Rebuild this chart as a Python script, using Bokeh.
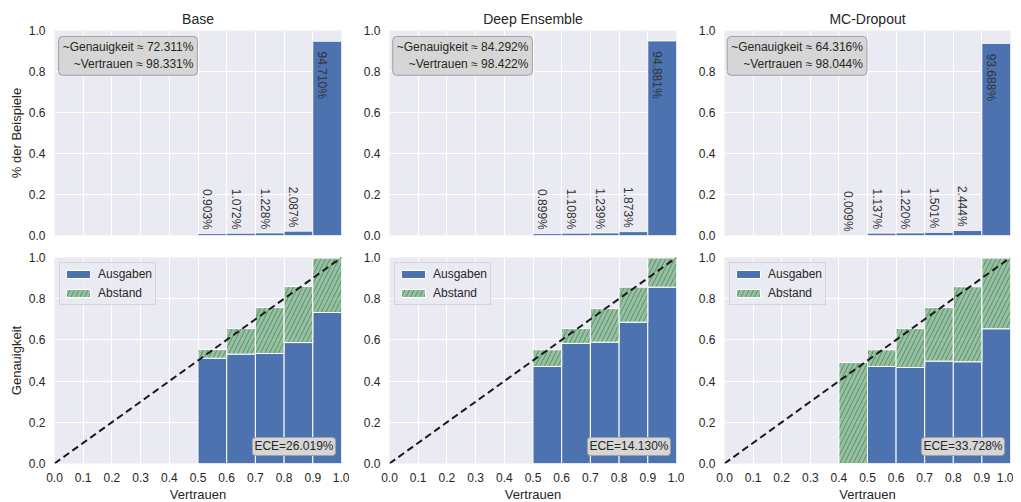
import math
from bokeh.plotting import figure
from bokeh.models import ColumnDataSource, FixedTicker, PrintfTickFormatter, Label, Range1d
from bokeh.layouts import column, row
from bokeh.embed import file_html
from bokeh.resources import INLINE
from bokeh.core.properties import value

# ---------------- data ----------------
models = ["Base", "Deep Ensemble", "MC-Dropout"]
bin_centers = [0.05, 0.15, 0.25, 0.35, 0.45, 0.55, 0.65, 0.75, 0.85, 0.95]

# share of samples per confidence bin (%)
share_base = [0, 0, 0, 0, 0, 0.903, 1.072, 1.228, 2.087, 94.710]
share_de = [0, 0, 0, 0, 0, 0.899, 1.108, 1.239, 1.873, 94.881]
share_mc = [0, 0, 0, 0, 0.009, 1.137, 1.220, 1.501, 2.444, 93.688]

# accuracy per bin ("Ausgaben")
acc_base = [0, 0, 0, 0, 0, 0.511, 0.531, 0.534, 0.587, 0.733]
acc_de = [0, 0, 0, 0, 0, 0.471, 0.583, 0.589, 0.686, 0.856]
acc_mc = [0, 0, 0, 0, 0.0, 0.471, 0.466, 0.497, 0.494, 0.654]

# mean confidence per bin (top of "Abstand")
conf_base = [0, 0, 0, 0, 0, 0.553, 0.655, 0.757, 0.859, 0.997]
conf_de = [0, 0, 0, 0, 0, 0.552, 0.655, 0.752, 0.856, 0.998]
conf_mc = [0, 0, 0, 0, 0.490, 0.552, 0.655, 0.757, 0.858, 0.997]

acc_overall = [72.311, 84.292, 64.316]
conf_overall = [98.331, 98.422, 98.044]
ece_values = [26.019, 14.130, 33.728]

x_ticks = [0.0, 0.1, 0.2, 0.3, 0.4, 0.5, 0.6, 0.7, 0.8, 0.9, 1.0]
y_ticks = [0.0, 0.2, 0.4, 0.6, 0.8, 1.0]
diag = [0.0, 1.0]

shares = [share_base, share_de, share_mc]
accs = [acc_base, acc_de, acc_mc]
confs = [conf_base, conf_de, conf_mc]

# ---------------- style ----------------
FONT = "Liberation Sans"
TXT = "#262626"
BG = "#EAEAF2"
BLUE = "#4C72B0"
GREEN = "#55A868"

frame_w = [287, 287, 286]
left_b = [54, 40, 40]
right_b = [8, 8, 3]


def style(p):
    p.background_fill_color = BG
    p.border_fill_color = "white"
    p.outline_line_color = None
    for ax in p.axis:
        ax.axis_line_color = None
        ax.major_tick_line_color = None
        ax.minor_tick_line_color = None
        ax.major_label_text_font = FONT
        ax.major_label_text_font_size = "12px"
        ax.major_label_text_color = TXT
        ax.axis_label_text_font = FONT
        ax.axis_label_text_font_size = "13px"
        ax.axis_label_text_font_style = "normal"
        ax.axis_label_text_color = TXT
        ax.major_label_standoff = 3
        ax.axis_label_standoff = 2
        ax.formatter = PrintfTickFormatter(format="%.1f")
    p.xaxis.ticker = FixedTicker(ticks=x_ticks)
    p.yaxis.ticker = FixedTicker(ticks=y_ticks)
    p.xgrid.ticker = FixedTicker(ticks=x_ticks)
    p.ygrid.ticker = FixedTicker(ticks=y_ticks)
    p.grid.grid_line_color = "white"
    p.grid.grid_line_width = 1
    p.title.text_font = FONT
    p.title.text_font_size = "14px"
    p.title.text_font_style = "normal"
    p.title.text_color = TXT
    p.title.align = "center"
    p.title.standoff = 8


top_figs = []
bot_figs = []
for i, name in enumerate(models):
    # ---------- top: share of samples ----------
    p = figure(title=name, frame_width=frame_w[i], frame_height=205,
               x_range=Range1d(0, 1), y_range=Range1d(0, 1),
               min_border_left=left_b[i], min_border_right=right_b[i],
               min_border_top=30, min_border_bottom=11,
               output_backend="svg", toolbar_location=None)
    style(p)
    p.xaxis.visible = False
    if i == 0:
        p.yaxis.axis_label = "% der Beispiele"

    xs = [c for c, s in zip(bin_centers, shares[i]) if s > 0]
    hs = [s / 100.0 for s in shares[i] if s > 0]
    src = ColumnDataSource(dict(x=xs, top=hs))
    p.vbar(x="x", width=0.1, bottom=0, top="top", source=src,
           fill_color=BLUE, line_color="white", line_width=0.8)

    small = [(c - 0.018, s / 100.0 + 0.019, "%.3f%%" % s)
             for c, s in zip(bin_centers, shares[i]) if 0 < s < 50]
    big = [(c - 0.018, s / 100.0 - 0.05, "%.3f%%" % s)
           for c, s in zip(bin_centers, shares[i]) if s >= 50]
    for items, align in ((small, "right"), (big, "left")):
        if not items:
            continue
        ts = ColumnDataSource(dict(x=[a[0] for a in items], y=[a[1] for a in items],
                                   t=[a[2] for a in items]))
        p.text(x="x", y="y", text="t", source=ts, angle=-math.pi / 2,
               text_align=align, text_baseline="middle",
               text_font=value(FONT), text_font_size="12px", text_color="#333333")

    info = Label(x=0.498, y=0.971, x_units="data", y_units="data",
                 text="~Genauigkeit \u2248 %.3f%%\n~Vertrauen \u2248 %.3f%%" % (acc_overall[i], conf_overall[i]),
                 text_align="right", text_baseline="top",
                 text_font=FONT, text_font_size="12px", text_color=TXT,
                 background_fill_color="#D6D6D6", background_fill_alpha=1.0,
                 border_line_color="#A0A0A0", border_line_width=1,
                 padding=4, border_radius=4)
    p.add_layout(info)
    top_figs.append(p)

    # ---------- bottom: reliability diagram ----------
    q = figure(frame_width=frame_w[i], frame_height=206,
               x_range=Range1d(0, 1), y_range=Range1d(0, 1),
               min_border_left=left_b[i], min_border_right=right_b[i],
               min_border_top=11, min_border_bottom=31,
               output_backend="svg", toolbar_location=None)
    style(q)
    q.xaxis.axis_label = "Vertrauen"
    if i == 0:
        q.yaxis.axis_label = "Genauigkeit"

    xb = [c for c, s in zip(bin_centers, shares[i]) if s > 0]
    ab = [a for a, s in zip(accs[i], shares[i]) if s > 0]
    cb = [c for c, s in zip(confs[i], shares[i]) if s > 0]
    bsrc = ColumnDataSource(dict(x=xb, acc=ab, conf=cb))
    q.vbar(x="x", width=0.1, bottom=0, top="acc", source=bsrc,
           fill_color=BLUE, line_color="white", line_width=1,
           legend_label="Ausgaben")
    q.vbar(x="x", width=0.1, bottom="acc", top="conf", source=bsrc,
           fill_color=GREEN, fill_alpha=0.6,
           hatch_pattern="/", hatch_color="#3a3a3a", hatch_alpha=0.45,
           hatch_scale=9, hatch_weight=1,
           line_color="white", line_width=1, legend_label="Abstand")
    q.line(diag, diag, line_dash="7 4", line_width=2, line_color="#1a1a1a")

    lg = q.legend[0]
    lg.location = "top_left"
    lg.margin = 5
    lg.padding = 3
    lg.spacing = 3
    lg.glyph_width = 30
    lg.glyph_height = 10
    lg.label_height = 16
    lg.label_standoff = 5
    lg.label_text_font = FONT
    lg.label_text_font_size = "12px"
    lg.label_text_color = TXT
    lg.background_fill_color = BG
    lg.background_fill_alpha = 0.8
    lg.border_line_color = "#BDBDBD"
    lg.border_line_width = 1

    ece = Label(x=0.979, y=0.039, x_units="data", y_units="data",
                text="ECE=%.3f%%" % ece_values[i],
                text_align="right", text_baseline="bottom",
                text_font=FONT, text_font_size="12px", text_color=TXT,
                background_fill_color="#D6D6D6", background_fill_alpha=1.0,
                border_line_color="#A0A0A0", border_line_width=1,
                padding=2, border_radius=3)
    q.add_layout(ece)
    bot_figs.append(q)

layout = column(row(*top_figs, spacing=0), row(*bot_figs, spacing=0), spacing=0)
open("out.html", "w").write(file_html(layout, INLINE))
